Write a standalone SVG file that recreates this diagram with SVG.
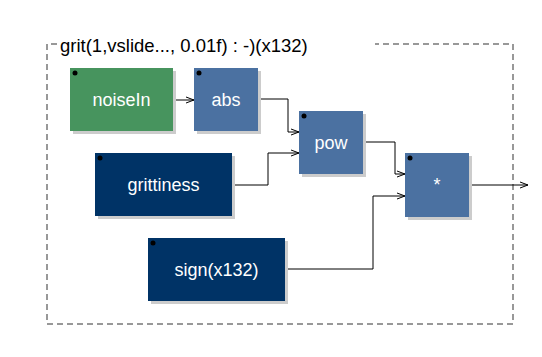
<svg xmlns="http://www.w3.org/2000/svg" width="542" height="357" viewBox="0 0 542 357">
<defs>
<marker id="arr" markerWidth="10" markerHeight="10" refX="9" refY="4" orient="auto" markerUnits="userSpaceOnUse">
<path d="M1,1 L9,4 L1,7" fill="none" stroke="#000" stroke-width="1"/>
</marker>
<style>
.shadow{fill:#cccccc}
.lbl{font-family:"Liberation Sans",Arial,sans-serif;font-size:18px;fill:#ffffff;text-anchor:middle}
.title{font-family:"Liberation Sans",Arial,sans-serif;font-size:18.5px;fill:#000000}
.dot{fill:#000000}
.frame{stroke:#777777;stroke-width:1.5;fill:none;stroke-dasharray:6,4}
.wire{stroke:#000000;stroke-width:1;fill:none}
</style>
</defs>
<rect width="542" height="357" fill="#ffffff"/>
<g id="frame">
<path class="frame" d="M57,44 L47,44 L47,324 L513,324 L513,44 L375,44"/>
<text class="title" x="60" y="52">grit(1,vslide..., 0.01f) : -)(x132)</text>
</g>
<g id="connectors">
<path class="wire" d="M173,100 L194,100" marker-end="url(#arr)"/>
<path class="wire" d="M258,99 L288,99 L288,132 L299,132" marker-end="url(#arr)"/>
<path class="wire" d="M232,185 L268,185 L268,153 L299,153" marker-end="url(#arr)"/>
<path class="wire" d="M363,142 L395,142 L395,174 L405,174" marker-end="url(#arr)"/>
<path class="wire" d="M285,269 L373,269 L373,196 L405,196" marker-end="url(#arr)"/>
<path class="wire" d="M469,185 L528,185" marker-end="url(#arr)"/>
</g>
<g id="noiseIn">
<rect class="shadow" x="73" y="71" width="103" height="63"/>
<rect x="70" y="68" width="103" height="63" fill="#47945E"/>
<circle class="dot" cx="75" cy="73" r="2.5"/>
<text class="lbl" x="121.5" y="106">noiseIn</text>
</g>
<g id="abs">
<rect class="shadow" x="197" y="71" width="64" height="63"/>
<rect x="194" y="68" width="64" height="63" fill="#4B71A1"/>
<circle class="dot" cx="199" cy="73" r="2.5"/>
<text class="lbl" x="226" y="106">abs</text>
</g>
<g id="pow">
<rect class="shadow" x="302" y="114" width="64" height="63"/>
<rect x="299" y="111" width="64" height="63" fill="#4B71A1"/>
<circle class="dot" cx="304" cy="116" r="2.5"/>
<text class="lbl" x="331" y="148.5">pow</text>
</g>
<g id="grittiness">
<rect class="shadow" x="98" y="156" width="137" height="63"/>
<rect x="95" y="153" width="137" height="63" fill="#003366"/>
<circle class="dot" cx="100" cy="158" r="2.5"/>
<text class="lbl" x="163.5" y="190.5">grittiness</text>
</g>
<g id="mul">
<rect class="shadow" x="408" y="156" width="64" height="64"/>
<rect x="405" y="153" width="64" height="64" fill="#4B71A1"/>
<circle class="dot" cx="410" cy="158" r="2.5"/>
<text class="lbl" x="437" y="191">*</text>
</g>
<g id="sign">
<rect class="shadow" x="151" y="241" width="137" height="63"/>
<rect x="148" y="238" width="137" height="63" fill="#003366"/>
<circle class="dot" cx="153" cy="243" r="2.5"/>
<text class="lbl" x="216.5" y="275.5">sign(x132)</text>
</g>
</svg>
